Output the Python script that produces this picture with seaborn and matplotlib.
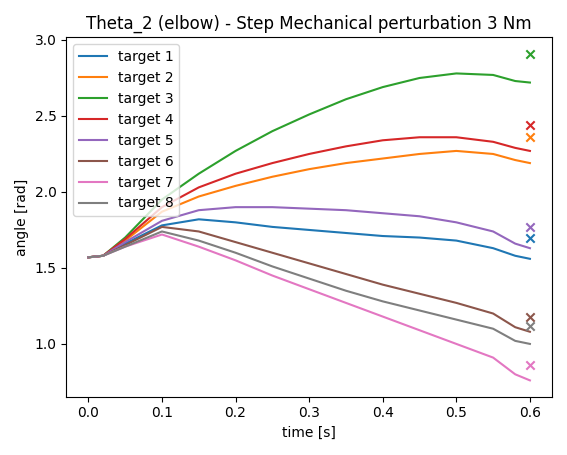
import matplotlib
matplotlib.use("Agg")
import matplotlib.pyplot as plt
import seaborn as sns
import numpy as np

time = [0.0, 0.02, 0.05, 0.1, 0.15, 0.2, 0.25, 0.3, 0.35, 0.4, 0.45, 0.5, 0.55, 0.58, 0.6]

angles = {
    "target 1": [1.57, 1.58, 1.66, 1.78, 1.82, 1.80, 1.77, 1.75, 1.73, 1.71, 1.70, 1.68, 1.63, 1.58, 1.56],
    "target 2": [1.57, 1.58, 1.68, 1.87, 1.97, 2.04, 2.10, 2.15, 2.19, 2.22, 2.25, 2.27, 2.25, 2.21, 2.19],
    "target 3": [1.57, 1.58, 1.70, 1.95, 2.12, 2.27, 2.40, 2.51, 2.61, 2.69, 2.75, 2.78, 2.77, 2.73, 2.72],
    "target 4": [1.57, 1.58, 1.69, 1.90, 2.03, 2.12, 2.19, 2.25, 2.30, 2.34, 2.36, 2.36, 2.33, 2.29, 2.27],
    "target 5": [1.57, 1.58, 1.67, 1.81, 1.88, 1.90, 1.90, 1.89, 1.88, 1.86, 1.84, 1.80, 1.74, 1.66, 1.63],
    "target 6": [1.57, 1.58, 1.65, 1.77, 1.74, 1.67, 1.60, 1.53, 1.46, 1.39, 1.33, 1.27, 1.20, 1.11, 1.08],
    "target 7": [1.57, 1.58, 1.64, 1.72, 1.64, 1.55, 1.45, 1.36, 1.27, 1.18, 1.09, 1.00, 0.91, 0.80, 0.76],
    "target 8": [1.57, 1.58, 1.64, 1.74, 1.68, 1.60, 1.51, 1.43, 1.35, 1.28, 1.22, 1.16, 1.10, 1.02, 1.00],
}
target_angles = [1.70, 2.36, 2.91, 2.44, 1.77, 1.18, 0.86, 1.12]

fig, ax = plt.subplots(figsize=(5.67, 4.55), dpi=100)
colors = sns.color_palette("tab10")
for i, (name, vals) in enumerate(angles.items()):
    sns.lineplot(x=time, y=vals, ax=ax, color=colors[i], label=name)
for i, ta in enumerate(target_angles):
    ax.scatter([time[-1]], [ta], marker="x", color=colors[i], zorder=3)

ax.set_title("Theta_2 (elbow) - Step Mechanical perturbation 3 Nm")
ax.set_xlabel("time [s]")
ax.set_ylabel("angle [rad]")
ax.legend(loc="upper left")
fig.tight_layout()
fig.savefig("out.png")
